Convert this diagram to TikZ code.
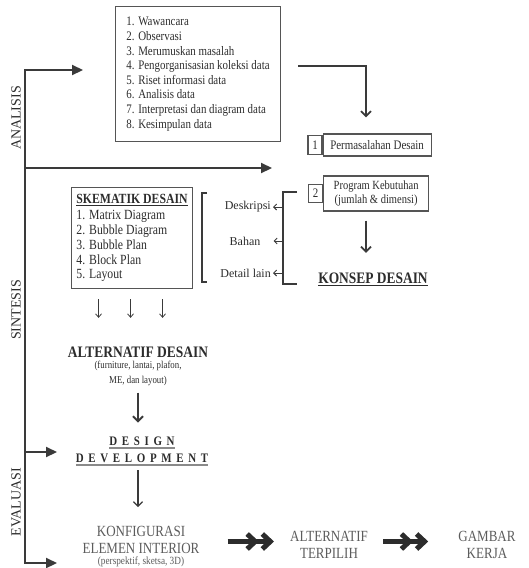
\documentclass[tikz,border=0pt]{standalone}
\usepackage{fontspec}
\setmainfont[FakeStretch=0.84]{Liberation Serif}
\newfontfamily\plainserif{Liberation Serif}
\usetikzlibrary{arrows.meta,calc}
\definecolor{ink}{HTML}{2C2C2C}
\definecolor{linegray}{HTML}{3A3A3A}
\definecolor{boxgray}{HTML}{555555}
\definecolor{softgray}{HTML}{5C5C5C}
\definecolor{ulgray}{HTML}{8A8A8A}
\newcommand\myul[4]{\setbox0\hbox{#1}\rlap{\textcolor{#2}{\rule[-#3]{\wd0}{#4}}}\box0}
\begin{document}
\begin{tikzpicture}[x=1pt,y=-1pt, font=\fontsize{13}{14.6}\selectfont, text=ink,
  spine/.style={draw=linegray, line width=2.2pt},
  bigarr/.style={spine, -{Triangle[length=11pt,width=10pt]}},
  barb/.style={draw=linegray, line width=1.8pt, -{Straight Barb[length=5pt,width=10pt]}},
  midarr/.style={draw=linegray, line width=1.2pt, -{Straight Barb[length=4.5pt,width=9pt]}},
  thinarr/.style={draw=linegray, line width=0.8pt, -{Straight Barb[length=3.5pt,width=6pt]}},
  smallarr/.style={draw=linegray, line width=0.9pt, -{Straight Barb[length=3pt,width=6pt]}},
  frame/.style={draw=boxgray, line width=1.1pt},
  chev/.style={draw=ink, line width=5.5pt, -{Straight Barb[length=8pt,width=15pt,line width=5pt,sep=1pt] Straight Barb[length=8pt,width=15pt,line width=5pt]}},
  sidelabel/.style={rotate=90, font=\plainserif\fontsize{14}{14}\selectfont},
  bkt/.style={draw=linegray, line width=1.1pt},
  bktlabel/.style={font=\plainserif\fontsize{12}{12}\selectfont, inner sep=1pt},
  endlabel/.style={align=center, text=softgray, inner sep=0pt, font=\fontsize{15.5}{17}\selectfont},
]
\useasboundingbox (0,0) rectangle (528,568);

% spine
\coordinate (s1) at (25,70);
\coordinate (s2) at (25,168);
\coordinate (s3) at (25,452);
\coordinate (s4) at (25,563);
\coordinate (e1) at (83,70);
\coordinate (e2) at (272,168);
\coordinate (e3) at (57,452);
\coordinate (e4) at (57,563);
\draw[spine, line cap=rect] (s1) -- (s4);
\draw[bigarr] (s1) -- (e1);
\draw[bigarr] (s2) -- (e2);
\draw[bigarr] (s3) -- (e3);
\draw[bigarr] (s4) -- (e4);

\node[sidelabel] (analisis) at (16,118) {ANALISIS};
\node[sidelabel] (sintesis) at (16,310) {SINTESIS};
\node[sidelabel] (evaluasi) at (16,502) {EVALUASI};

% top box
\node[frame, anchor=north west, minimum width=165pt, minimum height=135pt, align=left, inner sep=0pt] (topbox) at (115,6)
  {1. Wawancara\\2. Observasi\\3. Merumuskan masalah\\4. Pengorganisasian koleksi data\\5. Riset informasi data\\6. Analisis data\\7. Interpretasi dan diagram data\\8. Kesimpulan data};

% boxes 1 and 2
\node[frame, minimum width=14pt, minimum height=19pt, inner sep=0pt] (n1) at (315,145) {1};
\node[frame, anchor=west, minimum width=108pt, minimum height=22pt, inner sep=0pt] (box1) at (n1.east) {Permasalahan Desain};
\node[frame, minimum width=14pt, minimum height=18pt, inner sep=0pt] (n2) at (315.5,193.5) {2};
\node[frame, anchor=west, minimum width=105pt, minimum height=35pt, inner sep=0pt, align=center, font=\fontsize{12.5}{14}\selectfont] (box2) at (n2.east) {Program Kebutuhan\\(jumlah \& dimensi)};

\coordinate (ax) at (366,0);
\coordinate (t1) at (298,66);
\draw[barb, shorten >=16pt] (t1) -| (box1.north -| ax);

\node[anchor=base, font=\bfseries\fontsize{16}{16}\selectfont] (konsep) at (373,283) {\myul{KONSEP DESAIN}{ink}{2.6pt}{1.1pt}};
\draw[barb, shorten <=9pt, shorten >=16pt] (box2.south -| ax) -- (konsep.north -| ax);

% right bracket
\coordinate (rb1) at (297,192);
\coordinate (rb2) at (283,192);
\coordinate (rb3) at (283,284);
\coordinate (rb4) at (297,284);
\draw[bkt] (rb1) -- (rb2) -- (rb3) -- (rb4);
\coordinate (bk1) at (283,207);
\coordinate (bk2) at (283,241);
\coordinate (bk3) at (283,273);
\node[bktlabel, anchor=east] (desk) at (272,207) {Deskripsi};
\node[bktlabel] (bahan) at (245,241) {Bahan};
\node[bktlabel, anchor=east] (detail) at (272,273) {Detail lain};
\draw[smallarr, shorten >=1pt] (bk1) -- (desk.east);
\draw[smallarr, shorten >=12pt] (bk2) -- (bahan.east);
\draw[smallarr, shorten >=1pt] (bk3) -- (detail.east);

% left bracket
\coordinate (lb1) at (207,193);
\coordinate (lb2) at (202,193);
\coordinate (lb3) at (202,282);
\coordinate (lb4) at (207,282);
\draw[bkt] (lb1) -- (lb2) -- (lb3) -- (lb4);

% skematik
\node[frame, anchor=north west, minimum width=121pt, minimum height=101pt, align=left, inner xsep=4pt, inner ysep=3pt, font=\fontsize{14}{14.8}\selectfont] (skem) at (71,187)
  {\textbf{\myul{SKEMATIK DESAIN}{ink}{2.2pt}{0.9pt}}\\[1.5pt]1. Matrix Diagram\\2. Bubble Diagram\\3. Bubble Plan\\4. Block Plan\\5. Layout};

\node[anchor=base, font=\bfseries\fontsize{16}{16}\selectfont] (alt) at (138,357) {ALTERNATIF DESAIN};
\node[anchor=north, inner sep=0pt, align=center, font=\fontsize{10.5}{14.5}\selectfont] (altsub) at (138,361) {(furniture, lantai, plafon,\\ME, dan layout)};

\coordinate (k1) at ($(skem.south)+(-33.5,0)$);
\coordinate (k2) at ($(skem.south)+(-1.5,0)$);
\coordinate (k3) at ($(skem.south)+(30.5,0)$);
\draw[thinarr, shorten <=10pt, shorten >=25pt] (k1) -- (k1 |- alt.north);
\draw[thinarr, shorten <=10pt, shorten >=25pt] (k2) -- (k2 |- alt.north);
\draw[thinarr, shorten <=10pt, shorten >=25pt] (k3) -- (k3 |- alt.north);

% design development
\node[anchor=north, inner sep=0pt, align=center, text=ink, font=\bfseries\fontsize{13}{17}\selectfont\addfontfeatures{LetterSpace=36}] (design) at (142,436.5) {\myul{DESIGN}{ulgray}{3.6pt}{1.6pt}\\\myul{DEVELOPMENT}{ulgray}{3.6pt}{1.6pt}};
\coordinate (dx) at (138,0);
\draw[barb, shorten <=7pt, shorten >=14pt] (altsub.south -| dx) -- (design.north -| dx);

% konfigurasi
\node[endlabel, anchor=north] (konf) at (141,526) {KONFIGURASI\\ELEMEN INTERIOR};
\node[anchor=north, inner sep=0pt, text=softgray, font=\fontsize{11}{12}\selectfont] (konfsub) at (141,557) {(perspektif, sketsa, 3D)};
\draw[midarr, shorten <=4pt, shorten >=19pt] (design.south -| dx) -- (konf.north -| dx);

\node[endlabel] (alt2) at (329,545) {ALTERNATIF\\TERPILIH};
\node[endlabel] (gambar) at (487,545) {GAMBAR\\KERJA};

\coordinate (cy) at (0,541.5);
\draw[chev, shorten <=28pt, shorten >=16pt] (konf.east |- cy) -- (alt2.west |- cy);
\draw[chev, shorten <=15pt, shorten >=30pt] (alt2.east |- cy) -- (gambar.west |- cy);
\end{tikzpicture}
\end{document}
